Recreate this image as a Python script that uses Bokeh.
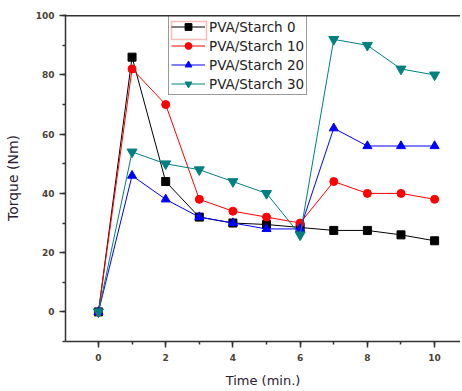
from bokeh.plotting import figure
from bokeh.models import Legend, LegendItem, SingleIntervalTicker, BoxAnnotation, Range1d, Span
from bokeh.embed import file_html
from bokeh.resources import INLINE

time = [0, 1, 2, 3, 4, 5, 6, 7, 8, 9, 10]
starch0 = [0, 86, 44, 32, 30, 29.5, 28.5, 27.5, 27.5, 26, 24]
starch10 = [0, 82, 70, 38, 34, 32, 30, 44, 40, 40, 38]
starch20 = [0, 46, 38, 32, 30, 28, 28, 62, 56, 56, 56]
starch30 = [0, 54, 50, 48, 44, 40, 26, 92, 90, 82, 80]
names = ["PVA/Starch 0", "PVA/Starch 10", "PVA/Starch 20", "PVA/Starch 30"]
y_top = 100

p = figure(width=460, height=390, output_backend="svg", toolbar_location=None,
           x_range=Range1d(-0.98, 10.77), y_range=Range1d(-10, 100.4),
           min_border_left=65, min_border_top=14, min_border_bottom=47, min_border_right=0,
           x_axis_label="Time (min.)", y_axis_label="Torque (Nm)")
p.outline_line_color = None
p.grid.visible = False
p.background_fill_color = "white"

for ax in (p.xaxis[0], p.yaxis[0]):
    ax.axis_line_color = "#333333"
    ax.axis_line_width = 1.5
    ax.major_tick_line_color = "#333333"
    ax.minor_tick_line_color = "#333333"
    ax.major_tick_line_width = 1.5
    ax.minor_tick_line_width = 1.5
    ax.major_tick_out = 6
    ax.major_tick_in = 0
    ax.minor_tick_out = 3
    ax.minor_tick_in = 0
    ax.major_label_text_font = "DejaVu Sans"
    ax.major_label_text_font_size = "9px"
    ax.major_label_text_font_style = "bold"
    ax.major_label_text_color = "#4a4235"
    ax.axis_label_text_font = "DejaVu Sans"
    ax.axis_label_text_font_style = "normal"
    ax.axis_label_text_color = "#2a2030"

p.xaxis[0].axis_label_text_font_size = "13px"
p.yaxis[0].axis_label_text_font_size = "14px"
p.xaxis[0].ticker = SingleIntervalTicker(interval=2, num_minor_ticks=2)
p.yaxis[0].ticker = SingleIntervalTicker(interval=20, num_minor_ticks=2)
p.xaxis[0].major_label_standoff = 6
p.yaxis[0].major_label_standoff = 5
p.xaxis[0].axis_label_standoff = 9
p.yaxis[0].axis_label_standoff = 12

# top frame border
p.add_layout(Span(location=y_top, dimension="width", line_color="#333333", line_width=1.5))

colors = ["black", "red", "blue", "#008080"]
series = [starch0, starch10, starch20, starch30]
items = []
for i, (name, ys, c) in enumerate(zip(names, series, colors)):
    ln = p.line(time, ys, line_color=c, line_width=1)
    if i == 0:
        mk = p.scatter(time, ys, marker="square", size=8, color=c)
    elif i == 1:
        mk = p.scatter(time, ys, marker="circle", size=8, color=c)
    elif i == 2:
        mk = p.scatter(time, ys, marker="triangle", size=9, color=c)
    else:
        mk = p.scatter(time, ys, marker="inverted_triangle", size=10, color=c)
    items.append(LegendItem(label=name, renderers=[ln, mk]))

hl = BoxAnnotation(left=106, right=141, top=320, bottom=302,
                   left_units="screen", right_units="screen",
                   top_units="screen", bottom_units="screen",
                   fill_color=None, fill_alpha=0, line_color="#e82020", line_width=1.5)
p.add_layout(hl)

legend = Legend(items=items, location=(103, 246), glyph_width=34, glyph_height=17,
                label_height=17, spacing=2, padding=2, margin=0,
                label_text_font="DejaVu Sans", label_text_font_size="13.5px",
                label_text_color="#222222", label_standoff=4,
                border_line_color="#333333", border_line_width=1.5,
                background_fill_alpha=0)
p.add_layout(legend, "center")

open("out.html", "w").write(file_html(p, INLINE))
